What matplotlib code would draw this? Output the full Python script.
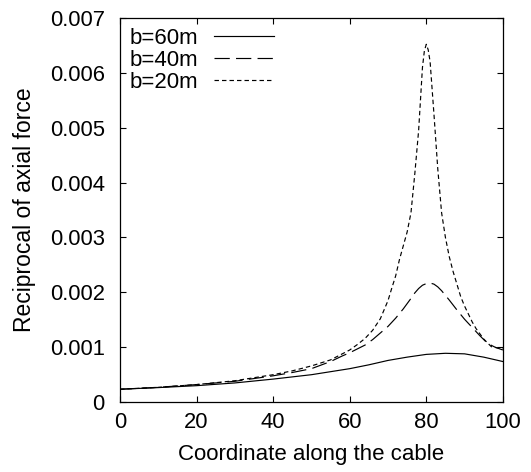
import matplotlib
matplotlib.use('Agg')
from matplotlib import pyplot as plt

# values (x along the cable, y in units of 1e-3)
x60 = [0, 10, 20, 30, 40, 50, 60, 65, 70, 75, 80, 85, 90, 95, 100]
y60 = [0.235, 0.265, 0.30, 0.35, 0.42, 0.50, 0.61, 0.68, 0.76, 0.82, 0.87, 0.89, 0.88, 0.82, 0.74]

x40 = [0, 10, 20, 30, 40, 45, 50, 55, 58, 60, 62, 64, 66, 68, 70, 72, 74, 76, 77, 78, 79,
       80, 81, 82, 83, 84, 86, 88, 90, 92, 94, 96, 98, 100]
y40 = [0.235, 0.27, 0.32, 0.38, 0.48, 0.54, 0.61, 0.74, 0.84, 0.90, 0.97, 1.04, 1.14, 1.26, 1.38,
       1.53, 1.70, 1.89, 1.99, 2.07, 2.13, 2.16, 2.17, 2.15, 2.10, 2.03, 1.86, 1.68, 1.51, 1.36,
       1.21, 1.07, 1.00, 0.95]

x20 = [0, 10, 20, 30, 40, 45, 50, 55, 60, 62, 64, 66, 68, 70, 71, 72, 73, 74, 75, 76, 77, 78,
       79, 79.5, 80, 80.5, 81, 82, 83, 84, 85, 86, 87, 88, 89, 90, 92, 93, 95, 97, 100]
y20 = [0.235, 0.27, 0.32, 0.39, 0.50, 0.57, 0.66, 0.77, 0.95, 1.05, 1.16, 1.31, 1.52, 1.85, 2.08,
       2.30, 2.60, 2.85, 3.10, 3.45, 4.16, 4.95, 6.10, 6.40, 6.52, 6.42, 6.20, 5.25, 4.25, 3.45,
       3.00, 2.65, 2.38, 2.15, 1.92, 1.75, 1.46, 1.34, 1.15, 1.01, 0.97]

xticks = [0, 20, 40, 60, 80, 100]
yticks = [0, 0.001, 0.002, 0.003, 0.004, 0.005, 0.006, 0.007]
ylabels = ['0', '0.001', '0.002', '0.003', '0.004', '0.005', '0.006', '0.007']

plt.rcParams['font.family'] = ['Liberation Sans', 'DejaVu Sans']
plt.rcParams['lines.scale_dashes'] = False

fig = plt.figure(figsize=(5.31, 4.72), dpi=100)
ax = fig.add_axes([0.226, 0.148, 0.721, 0.814])

s = 1e-3
ax.plot(x60, [v * s for v in y60], color='black', lw=0.85, label='b=60m')
ax.plot(x40, [v * s for v in y40], color='black', lw=0.85, dashes=(11, 4.5), label='b=40m')
ax.plot(x20, [v * s for v in y20], color='black', lw=0.85, dashes=(3.2, 2.2), label='b=20m')

ax.set_xlim(0, 100)
ax.set_ylim(0, 0.007)
ax.set_xticks(xticks)
ax.set_xticklabels([str(t) for t in xticks])
ax.set_yticks(yticks)
ax.set_yticklabels(ylabels)
ax.tick_params(direction='in', length=4, width=0.8, top=True, right=True, labelsize=15.8)
ax.tick_params(axis='y', pad=11)
ax.tick_params(axis='x', pad=7)
for sp in ax.spines.values():
    sp.set_linewidth(0.9)

ax.set_xlabel('Coordinate along the cable', fontsize=16, labelpad=8)
ax.set_ylabel('Reciprocal of axial force', fontsize=16.5, labelpad=10)

ax.legend(loc='upper left', bbox_to_anchor=(0.0, 1.0), frameon=False, markerfirst=False,
          fontsize=16, handlelength=2.7, handletextpad=0.7, labelspacing=0.05,
          borderaxespad=0.25, borderpad=0.2)

fig.savefig('out.png', dpi=100)
